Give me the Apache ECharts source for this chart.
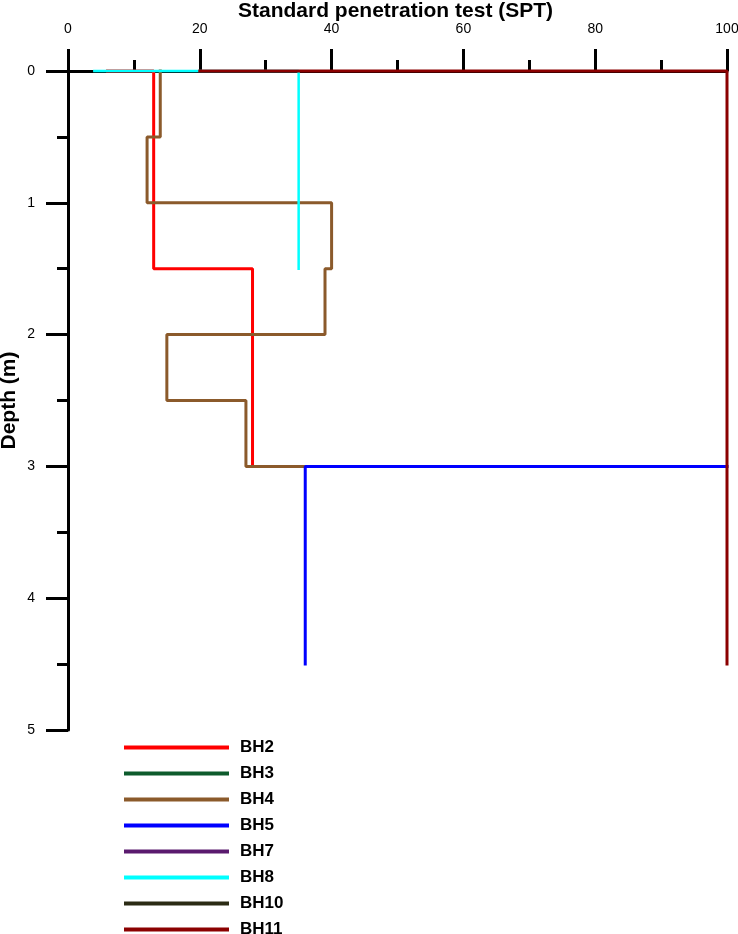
<!DOCTYPE html>
<html>
<head>
<meta charset="utf-8">
<script src="https://cdn.jsdelivr.net/npm/echarts@6/dist/echarts.min.js"></script>
<style>html,body{margin:0;padding:0;background:#fff}#c{width:738px;height:934px}</style>
</head>
<body>
<div id="c"></div>
<script>
var xTicks = [0, 20, 40, 60, 80, 100];
var yTicks = [0, 1, 2, 3, 4, 5];
var names = ['BH2', 'BH3', 'BH4', 'BH5', 'BH7', 'BH8', 'BH10', 'BH11'];
var colors = ['#ff0000', '#0d5b2c', '#8b5a2b', '#0000ff', '#5a1a6e', '#00ffff', '#2b2b14', '#8b0000'];
var widths = [3, 3, 3, 3, 3, 2.5, 3, 3];

var bh2Spt = [6, 13, 13, 28, 28];
var bh2Depth = [0, 0, 1.5, 1.5, 3];
var bh3Spt = [];
var bh3Depth = [];
var bh4Spt = [14, 14, 12, 12, 40, 40, 39, 39, 15, 15, 27, 27, 36];
var bh4Depth = [0, 0.5, 0.5, 1, 1, 1.5, 1.5, 2, 2, 2.5, 2.5, 3, 3];
var bh5Spt = [100, 36, 36];
var bh5Depth = [3, 3, 4.5];
var bh7Spt = [];
var bh7Depth = [];
var bh8Spt = [4, 35, 35];
var bh8Depth = [0, 0, 1.5];
var bh10Spt = [];
var bh10Depth = [];
var bh11Spt = [20, 100, 100];
var bh11Depth = [0, 0, 4.5];

var sptList = [bh2Spt, bh3Spt, bh4Spt, bh5Spt, bh7Spt, bh8Spt, bh10Spt, bh11Spt];
var depthList = [bh2Depth, bh3Depth, bh4Depth, bh5Depth, bh7Depth, bh8Depth, bh10Depth, bh11Depth];

function pairs(xs, ys) {
  var out = [];
  for (var i = 0; i < xs.length; i++) out.push([xs[i], ys[i]]);
  return out;
}

var series = names.map(function (n, i) {
  return {
    name: n,
    type: 'line',
    data: pairs(sptList[i], depthList[i]),
    symbol: 'none',
    showSymbol: false,
    clip: false,
    animation: false,
    lineStyle: { color: colors[i], width: widths[i], cap: 'square' },
    itemStyle: { color: colors[i] },
    z: 2 + i
  };
});

var FONT = 'Liberation Sans, Arial, sans-serif';
var chart = echarts.init(document.getElementById('c'), null, { renderer: 'canvas' });
chart.setOption({
  backgroundColor: '#fff',
  animation: false,
  title: {
    text: 'Standard penetration test (SPT)',
    left: 238,
    top: 1,
    padding: 0,
    textStyle: { fontFamily: FONT, fontWeight: 'bold', fontSize: 21, color: '#000' }
  },
  grid: { left: 68, right: 11, top: 71, bottom: 204, containLabel: false, outerBoundsMode: 'none' },
  xAxis: {
    type: 'value',
    position: 'top',
    min: 0, max: 100, interval: 20,
    axisLine: { show: true, lineStyle: { color: '#000', width: 3 } },
    axisTick: { show: true, length: 22, lineStyle: { color: '#000', width: 3 } },
    minorTick: { show: true, splitNumber: 2, length: 11, lineStyle: { color: '#000', width: 3 } },
    splitLine: { show: false },
    minorSplitLine: { show: false },
    axisLabel: {
      margin: 35, fontFamily: FONT, fontSize: 14, color: '#000',
      formatter: function (v) { return xTicks.indexOf(v) >= 0 ? String(v) : ''; }
    }
  },
  yAxis: {
    type: 'value',
    inverse: true,
    min: 0, max: 5, interval: 1,
    name: 'Depth (m)',
    nameLocation: 'middle',
    nameGap: 48,
    nameMoveOverlap: false,
    nameTextStyle: { fontFamily: FONT, fontWeight: 'bold', fontSize: 21, color: '#000' },
    axisLine: { show: true, lineStyle: { color: '#000', width: 3 } },
    axisTick: { show: true, length: 22, lineStyle: { color: '#000', width: 3 } },
    minorTick: { show: true, splitNumber: 2, length: 11, lineStyle: { color: '#000', width: 3 } },
    splitLine: { show: false },
    minorSplitLine: { show: false },
    axisLabel: {
      margin: 33, fontFamily: FONT, fontSize: 14, color: '#000',
      formatter: function (v) { return yTicks.indexOf(v) >= 0 ? String(v) : ''; }
    }
  },
  legend: {
    orient: 'vertical',
    left: 124,
    top: 739,
    height: 240,
    icon: 'rect',
    itemWidth: 105,
    itemHeight: 4,
    itemGap: 9,
    padding: 0,
    data: names,
    textStyle: { fontFamily: FONT, fontWeight: 'bold', fontSize: 17, color: '#000', padding: [0, 0, 0, 6], lineHeight: 16 }
  },
  series: series
});
</script>
</body>
</html>
